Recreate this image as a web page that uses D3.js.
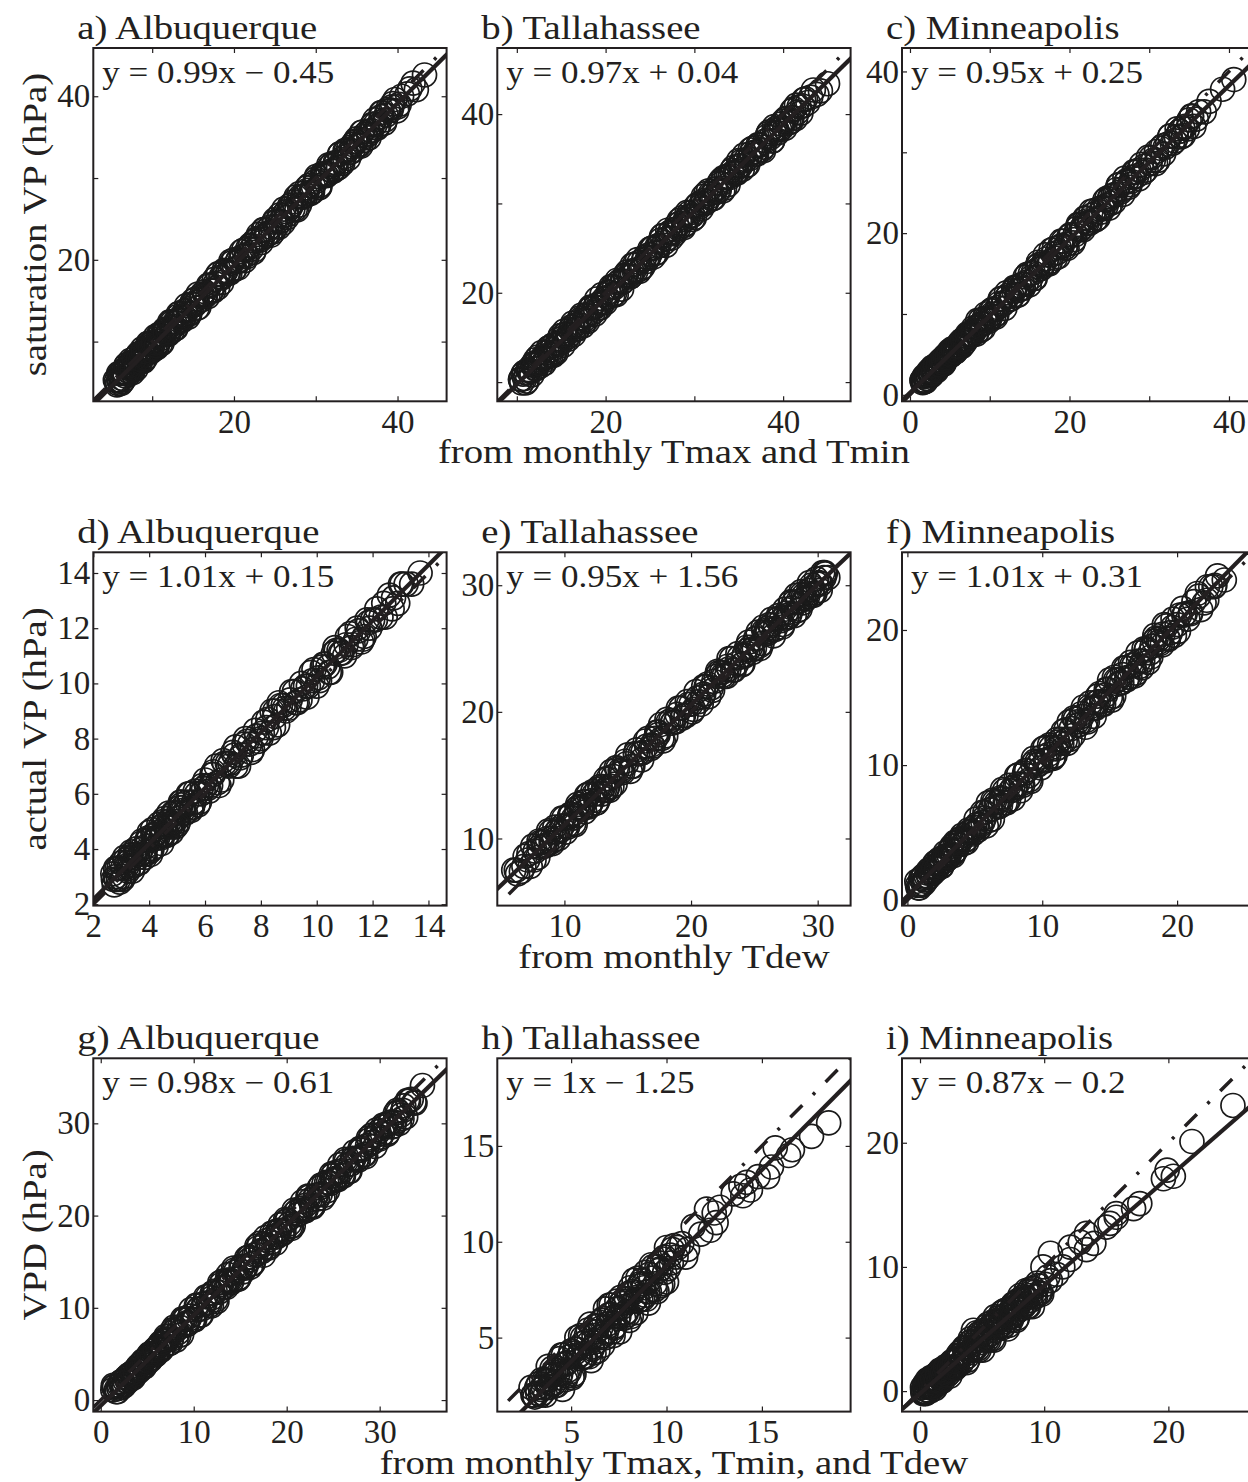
<!DOCTYPE html>
<html>
<head>
<meta charset="utf-8">
<script src="https://d3js.org/d3.v7.min.js"></script>
<style>
  body { margin: 0; background: #fff; }
  text { font-family: "Liberation Serif", "Times New Roman", serif; fill: #231f20; }
</style>
</head>
<body>
<div id="chart"></div>
<script>
// ---- data ----
const titles = ["a) Albuquerque", "b) Tallahassee", "c) Minneapolis",
                "d) Albuquerque", "e) Tallahassee", "f) Minneapolis",
                "g) Albuquerque", "h) Tallahassee", "i) Minneapolis"];
const equations = ["y = 0.99x \u2212 0.45", "y = 0.97x + 0.04", "y = 0.95x + 0.25",
                   "y = 1.01x + 0.15", "y = 0.95x + 1.56", "y = 1.01x + 0.31",
                   "y = 0.98x \u2212 0.61", "y = 1x \u2212 1.25", "y = 0.87x \u2212 0.2"];
const fitSlope = [0.99, 0.97, 0.95, 1.01, 0.95, 1.01, 0.98, 1, 0.87];
const fitIntercept = [-0.45, 0.04, 0.25, 0.15, 1.56, 0.31, -0.61, -1.25, -0.2];
const diagStart = [2.8, 7.8, -1, 2, 5.6, -0.4, -0.8, 1.7, -1.45];

const xLims = [[2.8, 46], [7.8, 47.6], [-1, 43.3], [2, 14.65], [4.7, 32.6], [-0.4, 25.8], [-0.8, 37.2], [1.13, 19.65], [-1.45, 27]];
const yLims = [[2.7, 45.9], [7.85, 47.4], [-0.8, 42.9], [1.95, 14.75], [4.7, 32.6], [-0.4, 25.75], [-1.25, 37.05], [1.14, 19.57], [-1.65, 26.8]];

const xTicks = [[10, 20, 30, 40], [10, 20, 30, 40], [0, 10, 20, 30, 40], [2, 4, 6, 8, 10, 12, 14], [10, 20, 30], [0, 10, 20], [0, 10, 20, 30], [5, 10, 15], [0, 10, 20]];
const xTickLabels = [[20, 40], [20, 40], [0, 20, 40], [2, 4, 6, 8, 10, 12, 14], [10, 20, 30], [0, 10, 20], [0, 10, 20, 30], [5, 10, 15], [0, 10, 20]];
const yTicks = [[10, 20, 30, 40], [10, 20, 30, 40], [0, 10, 20, 30, 40], [2, 4, 6, 8, 10, 12, 14], [10, 20, 30], [0, 10, 20], [0, 10, 20, 30], [5, 10, 15], [0, 10, 20]];
const yTickLabels = [[20, 40], [20, 40], [0, 20, 40], [2, 4, 6, 8, 10, 12, 14], [10, 20, 30], [0, 10, 20], [0, 10, 20, 30], [5, 10, 15], [0, 10, 20]];

const rowYLabels = ["saturation VP (hPa)", "actual VP (hPa)", "VPD (hPa)"];
const rowXLabels = ["from monthly Tmax and Tmin", "from monthly Tdew", "from monthly Tmax, Tmin, and Tdew"];

// monthly points [x, y]
const ptsA = [[5.5,5.3],[5.7,4.7],[5.9,6.1],[6.0,5.3],[6.2,4.9],[6.4,6.3],[6.5,6.1],[6.7,5.8],[6.9,7.2],[7.1,6.0],[7.2,6.9],[7.4,7.4],[7.6,6.2],[7.8,7.6],[8.0,7.4],[8.2,8.3],[8.4,7.4],[8.6,8.1],[8.8,9.1],[9.0,7.8],[9.2,8.9],[9.4,8.6],[9.7,9.7],[9.9,8.8],[10.1,9.6],[10.4,10.6],[10.6,9.3],[10.9,10.7],[11.1,10.4],[11.4,11.3],[11.7,11.4],[12.0,10.9],[12.3,12.4],[12.6,11.9],[12.9,11.6],[13.2,13.1],[13.5,13.0],[13.9,13.0],[14.2,14.4],[14.6,13.4],[15.0,14.6],[15.3,15.2],[15.7,14.2],[16.1,15.8],[16.5,15.8],[16.9,16.9],[17.3,16.3],[17.7,17.1],[18.1,18.3],[18.5,17.2],[18.9,18.5],[19.3,18.4],[19.7,19.6],[20.1,18.9],[20.5,19.9],[20.9,21.0],[21.3,19.9],[21.7,21.4],[22.1,21.3],[22.5,22.3],[22.9,22.5],[23.3,22.1],[23.7,23.7],[24.1,23.2],[24.5,23.0],[24.9,24.6],[25.3,24.7],[25.7,24.7],[26.1,26.2],[26.5,25.2],[26.9,26.4],[27.3,27.1],[27.7,26.1],[28.1,27.7],[28.5,27.7],[28.9,28.8],[29.3,28.1],[29.7,29.0],[30.1,30.2],[30.5,29.1],[30.9,30.4],[31.3,30.3],[31.7,31.4],[32.1,30.8],[32.5,31.8],[32.9,32.9],[33.3,31.8],[33.7,33.3],[34.1,33.1],[34.5,34.1],[34.9,34.4],[35.3,34.0],[35.7,35.6],[36.1,35.1],[36.5,34.9],[36.9,36.5],[37.3,36.6],[37.7,36.5],[38.1,38.0],[38.5,37.1],[38.9,38.2],[39.4,39.1],[39.9,38.2],[40.5,40.0],[41.2,40.3],[41.9,41.6],[43.3,42.6],
  [6.3,5.5],[7.0,6.8],[7.7,7.0],[8.5,8.2],[9.3,8.5],[10.0,9.9],[10.8,10.0],[11.6,11.3],[12.4,11.7],[13.3,12.6],[14.4,14.0],[15.5,14.8]];
const ptsA2 = [[5.8,4.9],[6.05,6.1],[6.35,5.1],[6.6,6.3],[6.85,6.8],[7.15,6.4],[7.35,7.7],[7.65,6.5],[7.9,7.5],[8.1,7.4],[8.3,8.5],[8.55,7.5],[8.75,8.6],[8.95,7.6],[9.15,9.0],[9.35,8.7],[9.6,9.8],[9.8,8.9],[10.05,9.8],[10.3,9.1],[10.55,9.6],[10.8,10.8],[11.0,9.7],[11.3,10.9],[11.55,11.5],[11.85,11.0],[12.15,12.4],[12.45,11.3],[12.75,12.3],[13.05,12.3],[13.4,13.5],[13.7,12.6],[14.05,13.8],[14.4,13.0],[14.8,14.6],[15.2,14.5],[15.6,15.8],[16.0,15.1],[16.4,16.1],[16.8,15.5],[17.2,16.2],[17.6,17.6],[18.0,16.6],[18.4,17.9],[18.8,18.7],[19.2,18.3],[19.6,19.8],[20.0,18.8],[20.4,19.8],[20.8,20.0],[21.2,21.2],[21.6,20.4],[22.0,21.7],[22.4,20.9],[22.8,22.6],[23.2,22.4],[23.6,23.7],[24.0,23.0],[24.4,24.0],[24.8,23.4],[25.2,24.1],[25.6,25.5],[26.0,24.5],[26.4,25.9],[26.8,26.6],[27.2,26.2],[27.6,27.7],[28.0,26.7],[28.4,27.8],[28.8,27.9],[29.2,29.1],[29.6,28.3],[30.0,29.6],[30.4,28.8],[30.8,30.5],[31.2,30.4],[31.6,31.6],[32.0,30.9],[32.4,31.9],[32.8,31.3],[33.2,32.0],[33.6,33.4],[34.0,32.4],[34.4,33.8],[34.8,34.5],[35.2,34.1],[35.6,35.6],[36.0,34.6],[36.4,35.7],[36.8,35.8],[37.2,37.1],[37.6,36.3],[38.0,37.5],[38.4,36.7],[38.8,38.4],[39.2,38.3],[39.7,39.6],[40.2,39.0],[41.5,40.9],[42.3,40.8]];
const ptsA3 = [[5.65,5.2],[5.95,5.2],[6.25,6.2],[6.55,5.4],[6.8,7.1],[7.05,6.4],[7.3,7.1],[7.55,6.6],[7.8,7.9],[8.05,6.7],[8.3,7.9],[8.6,7.8],[8.9,8.8],[9.2,8.0],[9.5,9.8],[9.8,9.2],[10.15,9.9],[10.5,9.5],[10.85,10.9],[11.2,9.8],[11.6,11.1],[12.0,11.2],[12.4,12.3],[12.8,11.6],[13.2,13.4],[13.6,12.9],[14.0,13.7],[14.5,13.5],[15.0,15.0],[15.5,14.1],[16.0,15.5],[16.5,15.6],[17.0,16.8],[17.5,16.2],[18.0,18.2],[18.5,17.8],[19.0,18.6],[19.5,18.4],[20.0,20.0],[20.5,19.0],[21.0,20.4],[21.5,20.6],[22.0,21.8],[22.5,21.2],[23.0,23.1],[23.5,22.7],[24.0,23.6],[24.5,23.4],[25.0,24.9],[25.5,24.0],[26.0,25.4],[26.5,25.5],[27.0,26.7],[27.5,26.2],[28.0,28.1],[28.5,27.7],[29.0,28.5],[29.5,28.3],[30.0,29.9],[30.5,28.9],[31.0,30.3],[31.5,30.5],[32.0,31.7],[32.5,31.1],[33.0,33.0],[33.5,32.6],[34.0,33.5],[34.5,33.3],[35.0,34.8],[35.5,33.9],[36.0,35.3],[36.5,35.4],[37.0,36.6],[37.5,36.1],[38.0,38.0],[38.6,37.7],[39.3,38.7],[40.0,38.7]];

const ptsB = [[10.4,10.3],[10.7,10.9],[11.0,9.9],[11.3,11.3],[11.6,11.2],[11.9,12.1],[12.2,11.5],[12.5,12.2],[12.8,13.3],[13.1,12.1],[13.4,13.3],[13.7,13.1],[14.0,14.1],[14.3,13.4],[14.6,14.3],[14.9,15.2],[15.2,14.1],[15.5,15.4],[15.9,15.3],[16.2,16.2],[16.6,16.4],[16.9,16.0],[17.3,17.5],[17.6,17.0],[18.0,16.8],[18.4,18.3],[18.8,18.4],[19.2,18.3],[19.6,19.8],[20.0,18.9],[20.4,20.0],[20.8,20.7],[21.2,19.8],[21.6,21.3],[22.0,21.3],[22.4,22.3],[22.8,21.8],[23.2,22.5],[23.6,23.7],[24.0,22.7],[24.4,24.0],[24.8,23.9],[25.2,25.0],[25.6,24.4],[26.0,25.3],[26.4,26.4],[26.8,25.3],[27.2,26.7],[27.6,26.7],[28.0,27.6],[28.4,27.8],[28.8,27.5],[29.2,29.0],[29.6,28.6],[30.0,28.4],[30.4,29.9],[30.8,30.0],[31.2,30.0],[31.6,31.4],[32.0,30.5],[32.4,31.6],[32.8,32.3],[33.2,31.4],[33.6,33.0],[34.0,32.9],[34.4,34.0],[34.8,33.4],[35.2,34.2],[35.6,35.4],[36.0,34.3],[36.4,35.6],[36.8,35.5],[37.2,36.6],[37.6,36.0],[38.0,37.0],[38.4,38.0],[38.8,37.0],[39.2,38.4],[39.6,38.3],[40.0,39.2],[40.4,39.5],[40.8,39.1],[41.2,40.6],[41.6,40.2],[42.0,40.1],[42.5,41.7],[43.1,41.9],[43.8,42.2],[45.0,43.4],
  [11.1,11.0],[12.0,11.9],[12.9,12.6],[13.9,13.6],[15.0,14.8],[16.4,15.8],[17.8,17.4],[19.0,18.6],[21.0,20.6],[23.0,22.3],[25.0,24.3],[27.0,26.1],[29.0,28.2],[31.0,30.3],[33.0,32.2],[35.0,34.2],[37.0,35.8],[39.0,37.9],[41.0,39.6]];
const ptsB2 = [[10.55,9.9],[10.85,11.1],[11.15,10.1],[11.45,11.3],[11.75,11.9],[12.05,11.5],[12.35,12.8],[12.65,11.8],[12.95,12.7],[13.25,12.7],[13.55,13.8],[13.85,13.0],[14.15,14.1],[14.45,13.3],[14.75,14.8],[15.05,14.6],[15.35,15.7],[15.7,15.0],[16.05,15.9],[16.4,15.3],[16.75,15.9],[17.1,17.2],[17.45,16.3],[17.8,17.5],[18.2,18.2],[18.6,17.8],[19.0,19.3],[19.4,18.3],[19.8,19.3],[20.2,19.5],[20.6,20.7],[21.0,19.9],[21.4,21.1],[21.8,20.4],[22.2,22.0],[22.6,21.9],[23.0,23.1],[23.4,22.4],[23.8,23.4],[24.2,22.9],[24.6,23.5],[25.0,24.9],[25.4,24.0],[25.8,25.2],[26.2,25.9],[26.6,25.6],[27.0,27.0],[27.4,26.1],[27.8,27.1],[28.2,27.2],[28.6,28.4],[29.0,27.7],[29.4,28.9],[29.8,28.2],[30.2,29.7],[30.6,29.6],[31.0,30.8],[31.4,30.2],[31.8,31.1],[32.2,30.6],[32.6,31.3],[33.0,32.6],[33.4,31.7],[33.8,33.0],[34.2,33.7],[34.6,33.4],[35.0,34.8],[35.4,33.8],[35.8,34.9],[36.2,35.0],[36.6,36.2],[37.0,35.5],[37.4,36.6],[37.8,35.9],[38.2,37.5],[38.6,37.4],[39.0,38.6],[39.4,37.9],[39.8,38.9],[40.2,38.4],[40.6,39.0],[41.0,40.4],[41.4,39.5],[41.8,40.8],[42.3,41.6],[42.8,41.3],[43.4,42.7],[44.2,42.6]];
const ptsB3 = [[10.5,10.3],[10.9,10.4],[11.3,11.4],[11.7,10.8],[12.1,12.5],[12.5,12.1],[12.9,12.8],[13.3,12.5],[13.7,13.9],[14.1,13.0],[14.5,14.2],[14.9,14.3],[15.3,15.3],[15.8,14.8],[16.3,16.6],[16.8,16.3],[17.3,17.1],[17.8,16.9],[18.3,18.4],[18.8,17.6],[19.3,18.8],[19.8,19.0],[20.3,20.1],[20.8,19.7],[21.3,21.4],[21.8,21.1],[22.3,21.9],[22.8,21.8],[23.3,23.2],[23.8,22.4],[24.3,23.7],[24.8,23.9],[25.3,25.0],[25.8,24.5],[26.3,26.3],[26.8,26.0],[27.3,26.8],[27.8,26.6],[28.3,28.1],[28.8,27.3],[29.3,28.5],[29.8,28.7],[30.3,29.8],[30.8,29.4],[31.3,31.1],[31.8,30.8],[32.3,31.6],[32.8,31.5],[33.3,32.9],[33.8,32.1],[34.3,33.4],[34.8,33.6],[35.3,34.7],[35.8,34.2],[36.3,36.0],[36.8,35.7],[37.3,36.5],[37.8,36.3],[38.3,37.8],[38.8,37.0],[39.3,38.2],[39.8,38.4],[40.3,39.5],[40.9,39.2],[41.5,41.0],[42.2,40.9]];

const ptsC = [[1.5,1.8],[1.7,1.7],[1.9,2.3],[2.1,2.0],[2.3,2.5],[2.5,3.0],[2.7,2.4],[2.9,3.2],[3.1,3.1],[3.3,3.6],[3.5,3.7],[3.7,3.5],[3.9,4.3],[4.1,4.1],[4.3,3.9],[4.6,4.9],[4.8,4.9],[5.1,4.9],[5.3,5.7],[5.6,5.3],[5.9,5.9],[6.2,6.4],[6.5,6.0],[6.8,6.9],[7.1,6.9],[7.4,7.6],[7.8,7.4],[8.1,7.9],[8.5,9.2],[8.9,8.0],[9.3,9.4],[9.7,9.2],[10.1,10.4],[10.5,9.7],[11.0,10.8],[11.4,11.9],[11.9,10.7],[12.3,12.3],[12.8,12.2],[13.2,13.2],[13.7,13.5],[14.2,13.2],[14.7,14.9],[15.2,14.5],[15.7,14.4],[16.2,16.1],[16.7,16.2],[17.2,16.2],[17.7,17.9],[18.2,16.9],[18.7,18.2],[19.2,19.0],[19.7,18.1],[20.2,19.8],[20.7,19.8],[21.2,21.0],[21.7,20.4],[22.2,21.3],[22.7,22.7],[23.2,21.6],[23.7,23.0],[24.2,23.0],[24.7,24.3],[25.2,23.7],[25.7,24.8],[26.2,26.0],[26.7,24.8],[27.2,26.5],[27.7,26.4],[28.2,27.5],[28.7,27.8],[29.3,27.5],[29.9,29.4],[30.5,29.0],[31.1,29.0],[31.7,30.8],[32.3,31.0],[32.9,31.1],[33.5,32.9],[34.0,31.9],[34.5,33.2],[35.0,34.0],[35.6,33.2],[36.2,35.0],[36.9,35.0],[39.2,37.8],[40.6,39.0],
  [1.8,1.6],[2.2,2.4],[2.6,2.7],[3.0,2.8],[3.4,3.4],[3.8,3.9],[4.4,4.5],[5.0,5.2],[5.5,5.5],[6.0,5.7],[6.6,6.6],[7.2,7.2],[8.3,8.3],[9.0,8.8],[10.3,10.0],[13.5,12.9],[16.0,15.5],[19.0,18.4],[22.0,21.8],[25.0,24.2],[28.0,26.9],[33.8,32.6],[35.3,34.5],[37.5,36.3]];
const ptsC2 = [[1.6,1.5],[1.8,2.3],[2.0,1.7],[2.2,2.4],[2.4,2.8],[2.6,2.6],[2.8,3.4],[3.0,2.8],[3.2,3.3],[3.4,3.4],[3.6,4.0],[3.8,3.6],[4.0,4.2],[4.2,3.8],[4.45,4.7],[4.7,4.7],[4.95,5.4],[5.2,5.0],[5.45,5.6],[5.75,5.4],[6.05,5.8],[6.35,6.6],[6.65,6.2],[6.95,6.9],[7.25,7.4],[7.6,7.3],[7.95,8.3],[8.3,7.5],[8.7,8.6],[9.1,8.7],[9.5,10.0],[9.9,9.1],[10.3,10.4],[10.75,9.6],[11.2,11.3],[11.65,11.2],[12.1,12.6],[12.55,11.8],[13.0,12.9],[13.45,12.3],[13.95,13.1],[14.45,14.6],[14.95,13.6],[15.45,15.1],[15.95,15.9],[16.45,15.6],[16.95,17.3],[17.45,16.2],[17.95,17.4],[18.45,17.6],[18.95,19.0],[19.45,18.2],[19.95,19.6],[20.45,18.8],[20.95,20.6],[21.45,20.5],[21.95,21.9],[22.45,21.2],[22.95,22.3],[23.45,21.8],[23.95,22.6],[24.45,24.1],[24.95,23.1],[25.45,24.6],[25.95,25.4],[26.45,25.1],[26.95,26.8],[27.45,25.7],[27.95,26.9],[28.45,27.1],[29.0,28.5],[29.6,27.8],[30.2,29.3],[30.8,28.6],[31.4,30.5],[32.0,30.6],[32.6,32.0],[33.2,31.4],[33.8,32.6],[34.3,32.1],[34.8,32.9],[35.3,34.4],[35.9,34.1]];
const ptsC3 = [[1.55,1.8],[1.75,1.8],[1.95,2.3],[2.15,2.0],[2.35,2.9],[2.55,2.6],[2.75,3.0],[2.95,2.8],[3.15,3.6],[3.35,3.0],[3.55,3.7],[3.75,3.7],[3.95,4.2],[4.15,3.9],[4.4,4.8],[4.65,4.6],[4.9,5.1],[5.15,4.9],[5.4,5.7],[5.7,5.3],[6.0,6.0],[6.3,6.1],[6.6,6.8],[6.9,6.5],[7.2,7.5],[7.5,7.3],[7.9,7.9],[8.4,7.8],[8.8,9.2],[9.2,8.2],[9.6,9.5],[10.0,9.5],[10.4,10.6],[10.9,10.0],[11.3,11.8],[11.8,11.4],[12.2,12.1],[12.7,11.9],[13.1,13.3],[13.6,12.4],[14.1,13.7],[14.6,13.9],[15.1,15.0],[15.6,14.4],[16.1,16.4],[16.6,15.9],[17.1,16.8],[17.6,16.5],[18.1,18.1],[18.6,17.1],[19.1,18.5],[19.6,18.6],[20.1,19.8],[20.6,19.2],[21.1,21.1],[21.6,20.7],[22.1,21.5],[22.6,21.3],[23.1,22.8],[23.6,21.9],[24.1,23.2],[24.6,23.4],[25.1,24.5],[25.6,23.9],[26.1,25.9],[26.6,25.4],[27.1,26.3],[27.6,26.0],[28.1,27.6],[28.7,26.7],[29.4,28.3],[30.1,28.6],[30.9,30.1],[31.8,29.8],[32.6,32.0],[33.4,31.9],[34.2,33.0]];

const ptsD = [[2.7,3.1],[2.8,3.0],[2.9,2.9],[3.0,3.5],[3.1,3.0],[3.2,3.5],[3.3,3.7],[3.4,3.2],[3.5,3.8],[3.6,3.7],[3.7,4.2],[3.8,3.8],[3.9,4.1],[4.0,4.6],[4.1,4.0],[4.2,4.5],[4.3,4.4],[4.4,4.8],[4.5,4.5],[4.6,4.8],[4.7,5.3],[4.8,4.6],[4.9,5.3],[5.0,5.1],[5.1,5.5],[5.2,5.5],[5.3,5.3],[5.45,6.0],[5.6,5.7],[5.75,5.6],[5.9,6.3],[6.05,6.3],[6.2,6.3],[6.4,7.0],[6.6,6.5],[6.8,7.1],[7.0,7.5],[7.2,7.0],[7.4,7.8],[7.6,7.8],[7.8,8.3],[8.0,8.0],[8.2,8.4],[8.4,9.0],[8.6,8.5],[8.8,9.2],[9.0,9.1],[9.2,9.7],[9.4,9.4],[9.6,9.9],[9.8,10.4],[10.0,9.9],[10.2,10.6],[10.4,10.6],[10.6,11.1],[10.8,11.2],[11.0,11.0],[11.2,11.8],[11.4,11.6],[11.6,11.5],[11.8,12.3],[12.0,12.3],[12.3,12.4],[12.6,13.2],[12.9,12.9],[13.2,13.6],[13.7,14.0],
  [3.05,2.9],[3.35,3.8],[3.65,3.5],[3.95,4.4],[4.25,4.1],[4.55,5.1],[4.85,4.8],[5.15,5.7],[2.8,3.3],[5.5,5.4],[6.3,6.8],[7.1,7.0],[8.5,9.0],[3.25,3.2],[3.55,4.0],[3.85,3.7],[4.15,4.5],[4.45,4.2],[4.75,4.9],[5.05,5.0]];
const ptsD2 = [[2.75,2.7],[2.85,3.3],[2.95,2.8],[3.05,3.3],[3.15,3.6],[3.25,3.3],[3.35,3.9],[3.45,3.4],[3.55,3.8],[3.65,3.8],[3.75,4.3],[3.85,3.8],[3.95,4.3],[4.05,3.8],[4.15,4.5],[4.25,4.4],[4.35,4.9],[4.45,4.5],[4.55,4.9],[4.65,4.5],[4.75,4.8],[4.85,5.3],[4.95,4.8],[5.05,5.3],[5.15,5.6],[5.25,5.3],[5.4,6.0],[5.55,5.5],[5.7,6.0],[5.85,6.0],[6.0,6.5],[6.15,6.1],[6.3,6.7],[6.5,6.3],[6.7,7.1],[6.9,7.1],[7.1,7.7],[7.3,7.4],[7.5,7.9],[7.7,7.6],[7.9,7.9],[8.1,8.6],[8.3,8.2],[8.5,8.8],[8.7,9.2],[8.9,9.0],[9.1,9.7],[9.3,9.3],[9.5,9.8],[9.7,9.9],[9.9,10.5],[10.1,10.1],[10.3,10.7],[10.5,10.4],[10.7,11.2],[10.9,11.1],[11.1,11.7],[11.3,11.4],[11.5,11.9],[11.7,11.7],[11.9,12.0],[12.15,12.7],[12.45,12.4],[12.75,13.1],[13.05,13.6]];
const ptsD3 = [[2.72,2.9],[2.82,2.9],[2.92,3.3],[3.02,2.9],[3.12,3.7],[3.22,3.4],[3.32,3.6],[3.42,3.4],[3.52,4.0],[3.62,3.5],[3.72,4.0],[3.82,3.9],[3.92,4.3],[4.02,3.9],[4.12,4.7],[4.22,4.4],[4.32,4.6],[4.42,4.4],[4.52,5.0],[4.62,4.5],[4.72,5.0],[4.82,4.9],[4.92,5.3],[5.02,4.9],[5.12,5.7],[5.22,5.4],[5.35,5.7],[5.5,5.5],[5.65,6.1],[5.8,5.7],[5.95,6.2],[6.1,6.2],[6.25,6.7],[6.45,6.4],[6.65,7.2],[6.85,7.0],[7.05,7.4],[7.25,7.3],[7.45,8.0],[7.65,7.5],[7.85,8.1],[8.05,8.2],[8.25,8.7],[8.45,8.4],[8.65,9.3],[8.85,9.1],[9.05,9.4],[9.25,9.3],[9.45,10.0],[9.65,9.5],[9.85,10.1],[10.05,10.2],[10.25,10.7],[10.45,10.4],[10.65,11.3],[10.85,11.1],[11.05,11.4],[11.25,11.3],[11.45,12.0],[11.65,11.6],[11.85,12.2],[12.1,12.3],[12.4,12.9],[12.7,12.7],[13.0,13.6],[13.4,13.6]];

const ptsE = [[6.0,7.5],[6.6,7.4],[7.1,8.3],[7.5,9.4],[7.9,8.5],[8.3,9.7],[8.6,9.5],[8.9,10.5],[9.2,9.9],[9.5,10.7],[9.8,11.6],[10.1,10.5],[10.4,11.7],[10.7,11.6],[11.0,12.4],[11.3,12.5],[11.6,12.1],[11.9,13.5],[12.2,13.0],[12.5,12.8],[12.8,14.1],[13.1,14.1],[13.4,14.0],[13.7,15.3],[14.0,14.3],[14.4,15.4],[14.8,16.1],[15.2,15.3],[15.6,16.7],[16.0,16.7],[16.4,17.7],[16.8,17.1],[17.2,17.9],[17.6,19.0],[18.0,18.1],[18.4,19.3],[18.8,19.2],[19.2,20.3],[19.6,19.7],[20.0,20.6],[20.4,21.6],[20.8,20.6],[21.2,22.0],[21.6,21.9],[22.0,22.8],[22.4,23.1],[22.8,22.8],[23.2,24.2],[23.6,23.8],[24.0,23.7],[24.4,25.1],[24.7,25.1],[25.0,25.0],[25.3,26.3],[25.6,25.4],[25.9,26.3],[26.2,26.9],[26.5,26.0],[26.8,27.3],[27.1,27.2],[27.4,28.1],[27.7,27.5],[28.0,28.2],[28.3,29.2],[28.6,28.1],[28.9,29.2],[29.2,29.1],[29.5,30.0],[29.8,29.4],[30.1,30.2],[30.4,31.0],[30.8,30.6],
  [10.9,11.8],[11.5,12.9],[12.0,12.6],[12.6,13.9],[13.3,13.8],[27.9,28.7],[28.8,28.6],[29.6,29.8],[30.6,30.9],[26.0,26.6],[8.0,9.3],[9.0,10.0],[24.2,24.5],[23.0,23.4],[21.0,21.4],[17.4,18.2]];
const ptsE2 = [[6.3,7.2],[6.9,8.6],[7.3,7.8],[7.7,9.0],[8.1,9.7],[8.45,9.4],[8.75,10.6],[9.05,9.6],[9.35,10.5],[9.65,10.6],[9.95,11.6],[10.25,10.9],[10.55,11.9],[10.85,11.1],[11.15,12.5],[11.45,12.4],[11.75,13.4],[12.05,12.7],[12.35,13.5],[12.65,13.0],[12.95,13.5],[13.25,14.7],[13.55,13.8],[13.85,14.9],[14.2,15.5],[14.6,15.2],[15.0,16.6],[15.4,15.7],[15.8,16.7],[16.2,16.8],[16.6,17.9],[17.0,17.3],[17.4,18.4],[17.8,17.7],[18.2,19.2],[18.6,19.2],[19.0,20.3],[19.4,19.7],[19.8,20.6],[20.2,20.2],[20.6,20.8],[21.0,22.0],[21.4,21.2],[21.8,22.4],[22.2,23.1],[22.6,22.8],[23.0,24.2],[23.4,23.3],[23.8,24.3],[24.2,24.4],[24.55,25.5],[24.85,24.7],[25.15,25.8],[25.45,25.0],[25.75,26.4],[26.05,26.2],[26.35,27.3],[26.65,26.6],[26.95,27.4],[27.25,26.9],[27.55,27.4],[27.85,28.6],[28.15,27.6],[28.45,28.7],[28.75,29.3],[29.05,28.9],[29.35,30.2],[29.65,29.2],[29.95,30.1],[30.25,30.1],[30.55,31.0]];
const ptsE3 = [[6.2,7.5],[6.8,7.8],[7.2,8.8],[7.6,8.3],[8.0,9.8],[8.35,9.4],[8.65,10.0],[8.95,9.7],[9.25,10.9],[9.55,10.0],[9.85,11.0],[10.15,11.0],[10.45,11.9],[10.75,11.2],[11.05,12.7],[11.35,12.3],[11.65,12.9],[11.95,12.5],[12.25,13.7],[12.55,12.8],[12.85,13.9],[13.15,13.8],[13.45,14.7],[13.75,14.1],[14.1,15.6],[14.5,15.3],[14.9,15.9],[15.3,15.7],[15.7,17.0],[16.1,16.2],[16.5,17.3],[16.9,17.4],[17.3,18.4],[17.7,17.9],[18.1,19.4],[18.5,19.1],[18.9,19.8],[19.3,19.5],[19.7,20.8],[20.1,20.0],[20.5,21.1],[20.9,21.2],[21.3,22.2],[21.7,21.7],[22.1,23.2],[22.5,22.9],[22.9,23.6],[23.3,23.3],[23.7,24.6],[24.1,23.8],[24.5,24.9],[24.8,24.9],[25.1,25.8],[25.4,25.2],[25.7,26.7],[26.0,26.2],[26.3,26.8],[26.6,26.5],[26.9,27.6],[27.2,26.7],[27.5,27.8],[27.8,27.7],[28.1,28.6],[28.4,28.0],[28.7,29.5],[29.0,29.0],[29.3,29.6],[29.6,29.3],[29.9,30.5],[30.2,29.6],[30.5,30.6]];

const ptsF = [[0.7,1.4],[0.9,0.9],[1.1,1.6],[1.3,1.5],[1.5,2.0],[1.7,2.1],[1.9,2.0],[2.1,2.8],[2.3,2.6],[2.5,2.5],[2.7,3.2],[2.9,3.3],[3.1,3.3],[3.3,4.0],[3.5,3.6],[3.7,4.1],[3.9,4.5],[4.2,4.2],[4.5,5.0],[4.8,5.1],[5.1,6.0],[5.4,5.4],[5.7,6.1],[6.0,7.2],[6.3,6.0],[6.6,7.2],[6.9,7.0],[7.2,8.1],[7.5,7.4],[7.8,8.3],[8.1,9.2],[8.4,8.1],[8.7,9.4],[9.0,9.2],[9.3,10.1],[9.6,10.2],[9.9,9.8],[10.2,11.3],[10.5,10.8],[10.8,10.5],[11.1,11.9],[11.4,11.9],[11.7,11.8],[12.0,13.2],[12.3,12.2],[12.6,13.2],[12.9,13.8],[13.2,12.8],[13.5,14.3],[13.8,14.2],[14.1,15.1],[14.4,14.5],[14.7,15.2],[15.0,16.3],[15.3,15.1],[15.6,16.3],[15.9,16.1],[16.2,17.2],[16.5,16.5],[16.8,17.4],[17.1,18.3],[17.4,17.2],[17.7,18.5],[18.0,18.3],[18.3,19.2],[18.6,19.3],[18.9,18.9],[19.2,20.3],[19.5,19.8],[19.8,19.6],[20.2,21.1],[20.6,21.2],[21.0,21.2],[21.5,22.7],[22.0,22.0],[22.5,23.2],[23.0,24.0],[23.5,23.7],
  [1.0,1.1],[1.2,1.8],[1.6,1.7],[2.0,2.5],[2.4,3.0],[2.8,2.9],[3.2,3.8],[3.6,3.7],[4.0,4.6],[4.4,4.3],[5.0,5.4],[5.6,5.8],[6.2,6.7],[7.0,7.5],[8.0,8.4],[11.0,11.2],[14.0,14.6],[22.8,23.3]];
const ptsF2 = [[0.8,0.9],[1.0,1.6],[1.2,1.2],[1.4,1.8],[1.6,2.2],[1.8,2.0],[2.0,2.7],[2.2,2.3],[2.4,2.8],[2.6,2.9],[2.8,3.5],[3.0,3.1],[3.2,3.7],[3.4,3.3],[3.6,4.2],[3.8,4.1],[4.05,4.8],[4.35,4.5],[4.65,5.1],[4.95,5.0],[5.25,5.2],[5.55,6.5],[5.85,5.5],[6.15,6.7],[6.45,7.3],[6.75,6.9],[7.05,8.2],[7.35,7.2],[7.65,8.1],[7.95,8.2],[8.25,9.3],[8.55,8.5],[8.85,9.6],[9.15,8.8],[9.45,10.3],[9.75,10.1],[10.05,11.2],[10.35,10.4],[10.65,11.3],[10.95,10.7],[11.25,11.3],[11.55,12.5],[11.85,11.6],[12.15,12.7],[12.45,13.4],[12.75,13.0],[13.05,14.3],[13.35,13.2],[13.65,14.2],[13.95,14.2],[14.25,15.3],[14.55,14.5],[14.85,15.6],[15.15,14.8],[15.45,16.3],[15.75,16.1],[16.05,17.2],[16.35,16.5],[16.65,17.4],[16.95,16.8],[17.25,17.3],[17.55,18.6],[17.85,17.6],[18.15,18.8],[18.45,19.4],[18.75,19.0],[19.05,20.4],[19.35,19.3],[19.65,20.2],[20.0,20.4],[20.4,21.6],[20.8,20.8],[21.25,22.1],[21.75,21.5],[22.25,23.2],[22.75,23.2]];
const ptsF3 = [[0.75,1.1],[0.95,1.2],[1.15,1.7],[1.35,1.4],[1.55,2.2],[1.75,2.0],[1.95,2.4],[2.15,2.3],[2.35,3.0],[2.55,2.5],[2.75,3.1],[2.95,3.2],[3.15,3.7],[3.35,3.4],[3.55,4.3],[3.75,4.1],[3.95,4.4],[4.25,4.4],[4.55,5.2],[4.85,4.9],[5.15,5.6],[5.45,5.6],[5.75,6.5],[6.05,5.9],[6.35,7.4],[6.65,7.0],[6.95,7.6],[7.25,7.2],[7.55,8.5],[7.85,7.5],[8.15,8.6],[8.45,8.6],[8.75,9.6],[9.05,8.9],[9.35,10.5],[9.65,10.0],[9.95,10.6],[10.25,10.3],[10.55,11.5],[10.85,10.6],[11.15,11.7],[11.45,11.6],[11.75,12.6],[12.05,11.9],[12.35,13.5],[12.65,13.0],[12.95,13.6],[13.25,13.3],[13.55,14.6],[13.85,13.6],[14.15,14.7],[14.45,14.7],[14.75,15.6],[15.05,15.0],[15.35,16.5],[15.65,16.0],[15.95,16.7],[16.25,16.3],[16.55,17.6],[16.85,16.6],[17.15,17.7],[17.45,17.7],[17.75,18.6],[18.05,18.0],[18.35,19.6],[18.65,19.1],[18.95,19.7],[19.3,19.4],[19.7,20.8],[20.1,19.9],[20.5,21.1],[21.0,21.3],[21.6,22.5],[22.2,22.2]];

const ptsG = [[1.3,1.1],[1.5,1.5],[1.8,0.9],[2.0,1.6],[2.3,1.4],[2.6,2.1],[2.9,2.0],[3.2,2.6],[3.5,2.4],[3.8,3.3],[4.1,3.1],[4.4,3.9],[4.7,3.6],[5.0,4.6],[5.3,4.3],[5.6,5.0],[5.9,4.9],[6.2,5.8],[6.5,5.4],[6.8,6.4],
  [7.1,6.6],[7.5,6.2],[7.9,7.9],[8.3,7.3],[8.7,7.1],[9.1,8.8],[9.5,8.8],[9.9,8.7],[10.3,10.3],[10.7,9.2],[11.1,10.4],[11.5,11.2],[11.9,10.2],[12.3,11.8],[12.7,11.7],[13.1,12.9],[13.5,12.2],[13.9,13.0],[14.3,14.3],[14.7,13.1],[15.1,14.5],[15.5,14.3],[15.9,15.5],[16.3,14.8],[16.7,15.8],[17.1,17.0],[17.5,15.7],[17.9,17.3],[18.3,17.1],[18.7,18.2],[19.1,18.4],[19.5,18.0],[19.9,19.6],[20.3,19.1],[20.7,18.9],[21.1,20.5],[21.5,20.6],[21.9,20.5],[22.3,22.1],[22.7,21.0],[23.1,22.2],[23.5,23.0],[23.9,21.9],[24.3,23.6],[24.7,23.5],[25.1,24.6],[25.5,23.9],[25.9,24.8],[26.3,26.1],[26.7,24.8],[27.1,26.2],[27.5,26.1],[27.9,27.3],[28.3,26.6],[28.7,27.6],[29.1,28.7],[29.5,27.5],[29.9,29.1],[30.3,28.9],[30.7,29.9],[31.1,30.1],[31.5,29.7],[31.9,31.4],[32.3,30.9],[32.8,30.7],[33.4,32.6],[34.6,34.1],
  [2.2,2.0],[3.0,2.7],[3.7,3.0],[4.5,4.2],[5.4,4.9],[6.0,5.6],[7.3,6.9],[8.0,7.5],[9.3,8.4],[10.5,9.9],[12.0,11.1],[13.7,12.9],[16.0,15.2],[19.0,17.9],[22.0,21.1],[25.0,23.8],[28.0,27.1],[32.6,31.9]];
const ptsG2 = [[1.4,1.4],[1.7,1.2],[2.1,1.9],[2.4,1.7],[2.7,2.4],[3.0,2.2],[3.3,2.9],[3.6,2.7],[3.9,3.5],[4.2,3.3],[4.5,4.1],[4.8,3.8],[5.1,4.8],[5.4,4.5],[5.7,5.3],[6.0,5.0],[6.3,6.0],[6.6,5.6],[6.9,6.6],
  [7.3,6.1],[7.7,7.6],[8.1,6.5],[8.5,7.9],[8.9,8.7],[9.3,8.2],[9.7,9.8],[10.1,8.7],[10.5,9.8],[10.9,9.9],[11.3,11.2],[11.7,10.3],[12.1,11.6],[12.5,10.7],[12.9,12.5],[13.3,12.3],[13.7,13.6],[14.1,12.9],[14.5,13.9],[14.9,13.3],[15.3,13.9],[15.7,15.4],[16.1,14.4],[16.5,15.7],[16.9,16.5],[17.3,16.1],[17.7,17.6],[18.1,16.5],[18.5,17.6],[18.9,17.7],[19.3,19.0],[19.7,18.2],[20.1,19.5],[20.5,18.6],[20.9,20.3],[21.3,20.2],[21.7,21.5],[22.1,20.7],[22.5,21.7],[22.9,21.1],[23.3,21.8],[23.7,23.3],[24.1,22.2],[24.5,23.6],[24.9,24.3],[25.3,23.9],[25.7,25.5],[26.1,24.3],[26.5,25.5],[26.9,25.6],[27.3,26.9],[27.7,26.0],[28.1,27.3],[28.5,26.4],[28.9,28.2],[29.3,28.0],[29.7,29.3],[30.1,28.5],[30.5,29.6],[30.9,29.0],[31.3,29.6],[31.7,31.1],[32.1,30.0],[32.5,31.4],[33.1,32.4],[33.8,32.2]];
const ptsG3 = [[1.35,1.6],[1.65,0.9],[1.95,1.3],[2.25,1.9],[2.55,1.6],[2.85,2.5],[3.15,2.2],[3.45,3.0],[3.75,2.8],[4.05,3.7],[4.35,3.4],[4.65,4.3],[4.95,4.0],[5.25,5.0],[5.55,4.6],[5.85,5.5],[6.15,5.2],[6.45,6.2],[6.75,5.8],[7.0,6.9],
  [7.2,6.5],[7.6,6.6],[8.0,7.7],[8.4,7.0],[8.8,8.8],[9.2,8.3],[9.6,9.1],[10.0,8.7],[10.4,10.2],[10.8,9.2],[11.2,10.5],[11.6,10.5],[12.0,11.6],[12.4,10.9],[12.8,12.7],[13.2,12.2],[13.6,13.0],[14.0,12.7],[14.4,14.1],[14.8,13.1],[15.2,14.4],[15.6,14.4],[16.0,15.5],[16.4,14.8],[16.8,16.7],[17.2,16.2],[17.6,16.9],[18.0,16.6],[18.4,18.1],[18.8,17.0],[19.2,18.3],[19.6,18.3],[20.0,19.4],[20.4,18.8],[20.8,20.6],[21.2,20.1],[21.6,20.8],[22.0,20.5],[22.4,22.0],[22.8,20.9],[23.2,22.2],[23.6,22.3],[24.0,23.4],[24.4,22.7],[24.8,24.5],[25.2,24.0],[25.6,24.8],[26.0,24.4],[26.4,25.9],[26.8,24.8],[27.2,26.1],[27.6,26.2],[28.0,27.3],[28.4,26.6],[28.8,28.4],[29.2,27.9],[29.6,28.7],[30.0,28.3],[30.4,29.8],[30.8,28.8],[31.2,30.1],[31.6,30.1],[32.0,31.2],[32.4,30.5],[33.0,32.5],[33.7,32.3]];

const ptsH = [[2.9,2.4],[3.1,1.9],[3.3,2.6],[3.5,2.1],[3.6,2.8],[3.8,2.4],[3.9,3.0],[4.1,2.6],[4.2,3.3],[4.4,2.9],
  [4.5,4.1],[4.7,2.8],[4.8,3.7],[5.0,4.3],[5.1,3.0],[5.3,4.4],[5.4,4.1],[5.6,5.0],[5.7,4.0],[5.9,4.7],[6.0,5.7],[6.2,4.2],[6.3,5.3],[6.5,5.0],[6.6,5.9],[6.8,5.0],[6.9,5.7],[7.1,6.7],[7.2,5.1],[7.4,6.5],[7.5,6.1],[7.7,6.9],[7.8,6.8],[8.0,6.2],[8.1,7.6],[8.3,6.9],[8.4,6.3],[8.6,7.8],[8.8,7.6],[9.0,7.4],[9.2,8.8],[9.4,7.5],[9.6,8.5],[9.8,9.1],[10.0,7.9],[10.2,9.3],[10.5,9.2],
  [4.6,3.6],[4.9,3.2],[5.2,4.2],[5.5,3.9],[5.8,5.1],[6.1,4.5],[6.4,5.6],[6.7,5.1],[7.0,6.2],[7.3,5.6],[7.6,6.8],[7.9,6.3],[8.2,7.3],[8.5,6.9],[8.7,8.0],[8.9,7.2],[9.1,8.3],[9.5,8.7],[9.9,8.4],[10.3,9.6],[3.4,2.3],[3.7,2.7],[4.0,3.1],[4.3,3.4],[9.7,7.7],
  [10.8,9.9],[11.1,9.6],[11.4,10.8],[11.8,10.4],[12.1,11.7],[12.3,10.6],[12.5,11.5],[12.6,11.0],[12.8,11.8],[13.5,12.5],[13.9,12.9],[14.0,12.4],[14.2,13.1],[14.4,12.7],[14.8,13.4],[15.3,13.4],[15.5,13.9],[15.7,14.9],[16.4,14.5],[16.6,14.8],[17.6,15.5],[18.5,16.2]];
const ptsH2 = [[3.0,2.0],[3.2,2.4],[3.4,2.0],[3.55,2.4],[3.7,2.8],[3.85,2.4],[4.0,3.4],[4.15,2.5],[4.3,3.1],[4.45,3.1],[4.6,4.1],[4.75,3.0],[4.9,4.0],[5.05,2.9],[5.2,4.4],[5.35,4.0],[5.5,5.1],[5.65,4.0],[5.8,4.8],[5.95,4.0],[6.1,4.4],[6.25,5.6],[6.4,4.3],[6.55,5.5],[6.7,6.0],[6.85,5.3],[7.0,6.7],[7.15,5.3],[7.3,6.1],[7.45,6.0],[7.6,7.1],[7.75,6.0],[7.9,7.0],[8.05,5.9],[8.2,7.4],[8.35,7.0],[8.5,8.1],[8.65,7.0],[8.8,7.8],[8.95,7.0],[9.1,7.4],[9.3,8.7],[9.5,7.4],[9.7,8.6],[9.9,9.2],[10.1,8.6],[10.4,9.8]];
const ptsH3 = [[3.05,2.0],[3.25,2.1],[3.45,2.8],[3.65,2.0],[3.8,3.5],[3.95,2.6],[4.1,3.2],[4.25,2.5],[4.4,3.9],[4.55,2.3],[4.7,3.6],[4.85,3.3],[5.0,4.3],[5.15,3.1],[5.3,5.0],[5.45,4.1],[5.6,4.7],[5.75,4.0],[5.9,5.4],[6.05,3.8],[6.2,5.1],[6.35,4.8],[6.5,5.8],[6.65,4.6],[6.8,6.5],[6.95,5.6],[7.1,6.2],[7.25,5.5],[7.4,6.9],[7.55,5.3],[7.7,6.6],[7.85,6.3],[8.0,7.3],[8.15,6.1],[8.3,8.0],[8.45,7.1],[8.6,7.7],[8.75,7.0],[8.9,8.4],[9.05,6.8],[9.2,8.1],[9.4,7.8],[9.6,8.9],[9.8,7.8],[10.0,9.7],[10.25,8.9],[10.6,9.7],[11.0,9.2]];

const ptsI = [[0.2,0.3],[0.3,-0.1],[0.4,0.6],[0.5,0.1],[0.6,0.9],[0.7,0.3],[0.8,0.0],[0.9,1.1],[1.0,0.5],[1.1,0.8],[1.2,0.2],[1.3,1.3],[1.4,0.9],[1.5,0.6],[1.6,1.6],[1.7,1.0],[1.8,0.8],[1.9,1.8],[2.0,1.3],[2.2,1.6],[2.4,1.2],[2.5,2.3],[2.7,1.9],[2.9,2.6],[3.0,2.0],
  [3.2,3.1],[3.4,2.4],[3.6,3.5],[3.8,2.8],[4.0,3.9],[4.2,3.3],[4.3,4.9],[4.5,3.5],[4.7,4.6],[4.9,3.9],[5.1,4.9],[5.3,4.3],[5.5,5.4],[5.7,4.6],[5.9,5.6],[6.1,4.9],[6.3,5.9],[6.5,5.3],[6.7,6.4],[6.9,5.6],[7.1,6.6],[7.3,6.0],[7.5,7.0],[7.7,6.3],[7.9,7.3],[8.1,6.6],[8.3,7.6],[8.5,7.0],[8.7,8.0],[8.9,7.3],[9.1,8.3],[9.3,7.6],[9.5,8.5],[9.7,7.9],[9.9,10.0],[10.1,8.6],[10.3,9.2],[10.5,8.9],
  [3.3,2.9],[3.7,3.0],[4.1,3.7],[4.6,4.2],[5.0,4.6],[5.4,4.8],[5.8,5.3],[6.2,5.5],[6.6,5.9],[7.0,6.2],[7.4,6.6],[7.8,6.9],[8.2,7.3],[8.6,7.5],[9.0,8.0],[2.1,2.0],[2.6,1.9],[1.5,1.2],
  [10.5,11.1],[11.0,9.4],[11.5,10.0],[12.1,10.6],[12.1,11.6],[12.9,12.0],[13.4,11.4],[13.4,12.7],[14.0,11.9],[15.0,13.2],[15.3,13.5],[15.8,14.3],[15.8,14.0],[17.2,14.7],[17.7,15.1],[19.6,17.1],[19.9,17.8],[20.4,17.3],[21.9,20.1],[25.2,23.0]];
const ptsI2 = [[0.25,-0.2],[0.35,0.4],[0.45,-0.2],[0.55,0.4],[0.65,0.6],[0.75,0.3],[0.85,1.0],[0.95,0.3],[1.05,0.8],[1.15,0.7],[1.25,1.3],[1.35,0.7],[1.45,1.2],[1.55,0.7],[1.65,1.5],[1.75,1.3],[1.85,1.8],[1.95,1.3],[2.1,1.8],[2.3,1.4],[2.45,1.7],[2.6,2.4],[2.8,1.8],[2.95,2.5],[3.1,2.8],
  [3.35,2.3],[3.55,3.5],[3.75,2.3],[3.95,3.4],[4.15,4.0],[4.35,3.3],[4.55,4.7],[4.75,3.3],[4.95,4.2],[5.15,4.1],[5.35,5.2],[5.55,4.1],[5.75,5.2],[5.95,4.1],[6.15,5.6],[6.35,5.2],[6.55,6.3],[6.75,5.3],[6.95,6.1],[7.15,5.3],[7.35,5.7],[7.55,7.0],[7.75,5.7],[7.95,6.9],[8.15,7.4],[8.35,6.8],[8.55,8.1],[8.75,6.8],[8.95,7.7],[9.2,7.6],[9.45,8.7],[9.8,7.8]];
const ptsI3 = [[0.22,0.0],[0.32,-0.1],[0.42,0.4],[0.52,-0.1],[0.62,0.8],[0.72,0.4],[0.82,0.7],[0.92,0.4],[1.02,1.0],[1.12,0.3],[1.22,0.9],[1.32,0.8],[1.42,1.3],[1.52,0.8],[1.62,1.7],[1.72,1.3],[1.82,1.5],[1.92,1.2],[2.05,1.9],[2.2,1.3],[2.35,1.9],[2.55,1.9],[2.75,2.4],[2.9,2.0],[3.05,2.9],
  [3.25,2.7],[3.45,2.5],[3.65,3.5],[3.85,2.5],[4.05,4.2],[4.25,3.4],[4.45,4.0],[4.65,3.4],[4.85,4.7],[5.05,3.3],[5.25,4.5],[5.45,4.2],[5.65,5.2],[5.85,4.2],[6.05,6.0],[6.25,5.1],[6.45,5.7],[6.65,5.1],[6.85,6.5],[7.05,5.0],[7.25,6.2],[7.45,6.0],[7.65,7.0],[7.85,5.9],[8.05,7.7],[8.25,6.9],[8.45,7.5],[8.65,6.8],[8.85,8.2],[9.05,6.8],[9.3,8.0],[9.6,7.9]];

const panelPoints = [ptsA.concat(ptsA2, ptsA3), ptsB.concat(ptsB2, ptsB3), ptsC.concat(ptsC2, ptsC3),
                     ptsD.concat(ptsD2, ptsD3), ptsE.concat(ptsE2, ptsE3), ptsF.concat(ptsF2, ptsF3),
                     ptsG.concat(ptsG2, ptsG3), ptsH.concat(ptsH2, ptsH3), ptsI.concat(ptsI2, ptsI3)];

// ---- layout ----
const W = 1248, H = 1482;
const colLeft = [93.3, 497.3, 902];
const rowTop = [48, 552.3, 1058.3];
const size = 353.3;
const ink = "#231f20";

const svg = d3.select("#chart").append("svg")
    .attr("width", W)
    .attr("height", H);

// text that is a little wider than the plain font
function wideText(parent, x, y, str, fontSize, sx, anchor, rot) {
  const g = parent.append("g")
      .attr("transform", "translate(" + x + "," + y + ")" + (rot ? " rotate(" + rot + ")" : "") + " scale(" + sx + ",1)");
  g.append("text")
      .attr("text-anchor", anchor)
      .attr("font-size", fontSize)
      .text(str);
}

function styleAxis(g) {
  g.select(".domain").remove();
  g.attr("font-family", null).attr("font-size", 33);
  g.selectAll(".tick line").attr("stroke", ink).attr("stroke-width", 1.2);
  g.selectAll(".tick text").attr("fill", ink);
}

panelPoints.forEach(function(pts, i) {
  const r = Math.floor(i / 3), c = i % 3;
  const g = svg.append("g").attr("transform", "translate(" + colLeft[c] + "," + rowTop[r] + ")");

  const x = d3.scaleLinear().domain(xLims[i]).range([0, size]);
  const y = d3.scaleLinear().domain(yLims[i]).range([size, 0]);

  g.append("clipPath").attr("id", "clip" + i)
    .append("rect").attr("width", size).attr("height", size);

  const plot = g.append("g").attr("clip-path", "url(#clip" + i + ")");

  plot.selectAll("circle")
    .data(pts)
    .enter()
    .append("circle")
      .attr("cx", d => x(d[0]))
      .attr("cy", d => y(d[1]))
      .attr("r", 12)
      .attr("fill", "none")
      .attr("stroke", "#1a1a1a")
      .attr("stroke-width", 1.7);

  const line = d3.line().x(d => x(d[0])).y(d => y(d[1]));
  const xMax = xLims[i][1] + 5;

  // 1:1 line, dash-dot
  plot.append("path")
    .attr("d", line([[diagStart[i], diagStart[i]], [xMax, xMax]]))
    .attr("fill", "none")
    .attr("stroke", ink)
    .attr("stroke-width", 3.5)
    .attr("stroke-dasharray", "17,15,3,15");

  // regression line
  const x0 = xLims[i][0] - 5;
  plot.append("path")
    .attr("d", line([[x0, fitSlope[i] * x0 + fitIntercept[i]], [xMax, fitSlope[i] * xMax + fitIntercept[i]]]))
    .attr("fill", "none")
    .attr("stroke", ink)
    .attr("stroke-width", 4.2);

  // axes, ticks pointing inward on all four sides
  g.append("g")
    .attr("transform", "translate(0," + size + ")")
    .call(d3.axisBottom(x).tickValues(xTicks[i]).tickSize(-5).tickPadding(8)
      .tickFormat(d => xTickLabels[i].includes(d) ? d : ""))
    .call(styleAxis);
  g.append("g")
    .call(d3.axisTop(x).tickValues(xTicks[i]).tickSize(-5).tickFormat(""))
    .call(styleAxis);
  g.append("g")
    .call(d3.axisLeft(y).tickValues(yTicks[i]).tickSize(-5).tickPadding(3)
      .tickFormat(d => yTickLabels[i].includes(d) ? d : ""))
    .call(styleAxis);
  g.append("g")
    .attr("transform", "translate(" + size + ",0)")
    .call(d3.axisRight(y).tickValues(yTicks[i]).tickSize(-5).tickFormat(""))
    .call(styleAxis);

  g.append("rect")
    .attr("width", size)
    .attr("height", size)
    .attr("fill", "none")
    .attr("stroke", ink)
    .attr("stroke-width", 2);

  // panel title and fit equation
  wideText(g, -16, -9, titles[i], 34, 1.14, "start");
  wideText(g, 9, 35, equations[i], 31, 1.13, "start");
});

// row labels
rowTop.forEach(function(top, r) {
  wideText(svg, 46, top + size / 2, rowYLabels[r], 34, 1.14, "middle", -90);
  wideText(svg, colLeft[1] + size / 2, top + size + 62, rowXLabels[r], 34, 1.14, "middle");
});
</script>
</body>
</html>
